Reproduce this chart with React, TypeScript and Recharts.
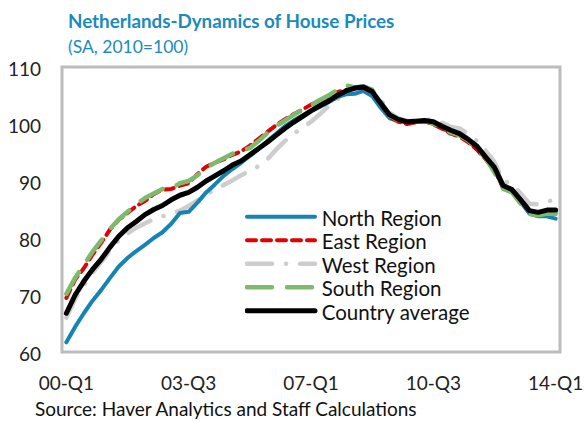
import React from 'react';
import { LineChart, Line, XAxis, YAxis, ReferenceArea } from 'recharts';

// quarterly labels 00-Q1 .. 14-Q1
const QUARTERS: string[] = [];
for (let y = 0; y <= 14; y++) {
  for (let q = 1; q <= 4; q++) {
    if (y === 14 && q > 1) break;
    QUARTERS.push(`${String(y).padStart(2, '0')}-Q${q}`);
  }
}

const X_LABELS = ['00-Q1', '03-Q3', '07-Q1', '10-Q3', '14-Q1'];
const Y_TICKS = [60, 70, 80, 90, 100, 110];

const NORTH = [
  61.7, 64.4, 66.8, 69.0, 70.9, 73.0, 75.0, 76.5, 77.7, 78.8, 80.0, 81.0, 82.5, 84.4, 84.6,
  86.2, 88.0, 89.4, 90.9, 92.1, 93.2, 94.4, 95.6, 97.0, 98.3, 99.6, 100.6, 101.5, 102.3,
  103.0, 103.8, 104.7, 105.2, 105.3, 105.8, 104.9, 102.8, 101.0, 100.6, 100.2, 100.4, 100.5,
  100.0, 99.3, 98.4, 98.0, 97.0, 95.6, 93.9, 92.0, 88.8, 88.2, 86.3, 84.3, 83.8, 83.8, 83.4,
];
const EAST = [
  69.5, 72.7, 74.7, 77.1, 79.2, 81.5, 83.2, 84.4, 85.6, 86.5, 87.7, 88.5, 88.6, 89.2, 89.6,
  91.2, 92.5, 93.2, 93.8, 94.6, 95.2, 96.2, 97.4, 98.6, 99.8, 100.8, 101.7, 102.5, 103.4,
  104.1, 104.8, 105.6, 106.0, 106.2, 106.3, 105.6, 103.5, 101.2, 100.4, 100.0, 100.3, 100.5,
  99.9, 99.2, 98.3, 97.8, 96.8, 95.5, 93.8, 92.0, 88.8, 88.3, 86.5, 84.8, 84.3, 84.2, 84.4,
];
const WEST = [
  66.0, 69.3, 71.7, 73.9, 75.8, 77.8, 79.6, 80.8, 81.8, 82.6, 83.3, 83.8, 84.3, 84.8, 85.6,
  86.6, 87.6, 88.5, 89.3, 90.1, 91.0, 91.8, 92.6, 93.8, 95.5, 97.0, 98.3, 99.3, 100.4,
  101.7, 103.1, 104.4, 105.2, 105.8, 106.3, 106.0, 104.2, 102.0, 101.0, 100.5, 100.6, 100.8,
  100.7, 100.2, 99.5, 99.2, 98.3, 97.0, 95.3, 93.3, 90.0, 89.5, 87.8, 86.0, 85.9, 86.4, 86.7,
];
const SOUTH = [
  70.2, 73.0, 75.3, 77.6, 79.6, 81.6, 83.3, 84.6, 85.9, 87.0, 87.8, 88.6, 88.7, 89.6, 90.0,
  91.0, 92.3, 93.2, 94.0, 94.8, 95.3, 95.8, 97.0, 98.4, 99.6, 100.6, 101.6, 102.5, 103.3,
  104.2, 105.0, 106.0, 106.8, 106.4, 106.6, 106.0, 103.8, 101.5, 100.6, 100.3, 100.4, 100.6,
  100.1, 99.3, 98.5, 98.0, 97.1, 95.6, 94.0, 91.5, 88.6, 88.0, 86.0, 84.2, 84.0, 84.3, 84.2,
];
const COUNTRY = [
  66.8, 70.0, 72.4, 74.5, 76.3, 78.4, 80.3, 81.8, 82.9, 84.1, 85.0, 85.7, 86.7, 87.5, 88.0,
  88.9, 90.0, 90.9, 91.8, 92.8, 93.5, 94.6, 95.7, 96.8, 98.0, 99.2, 100.3, 101.3, 102.3,
  103.2, 104.0, 105.0, 105.8, 106.3, 106.5, 105.7, 103.6, 101.6, 100.8, 100.4, 100.5, 100.6,
  100.4, 99.6, 98.9, 98.3, 97.3, 96.1, 94.2, 92.4, 89.2, 88.5, 86.7, 84.8, 84.5, 84.9, 84.9,
];

const data = QUARTERS.map((q, i) => ({
  i,
  q,
  north: NORTH[i],
  east: EAST[i],
  west: WEST[i],
  south: SOUTH[i],
  country: COUNTRY[i],
}));

// x axis: points sit in the middle of each quarter, small tick marks at quarter boundaries
const X_MIN = -0.5;
const X_MAX = QUARTERS.length - 0.5;
const LABEL_TICKS = X_LABELS.map((l) => QUARTERS.indexOf(l));
const BOUNDARY_TICKS = QUARTERS.map((_, i) => i + 0.5).slice(0, -1);

// draw order: first is at the bottom
const SERIES = [
  { key: 'west', name: 'West Region', color: '#cdcdcd', width: 4.5, dash: '25 14 0.1 14' },
  { key: 'north', name: 'North Region', color: '#1584b4', width: 4, dash: undefined },
  { key: 'east', name: 'East Region', color: '#e30000', width: 4, dash: '9 6' },
  { key: 'south', name: 'South Region', color: '#7eba6c', width: 4.5, dash: '25 15' },
  { key: 'country', name: 'Country average', color: '#000000', width: 5, dash: undefined },
];
const LEGEND_ORDER = ['north', 'east', 'west', 'south', 'country'];

const FONT = 'Lato, "Open Sans", sans-serif';
const FRAME = '#bcbcbc';
const TITLE_COLOR = '#1a8bbd';
const tickText = { fontSize: 19, fill: '#222', fontFamily: FONT };

// mirrored axes: the tick anchor sits tickSize + tickMargin inside the frame
const MinorXTick = (props: any) => {
  const { x, y } = props;
  return (
    <g>
      <path d={`M${x},${y + 2}L${x},${y + 8}`} stroke={FRAME} strokeWidth={2.5} fill="none" />
    </g>
  );
};
const MinorYTick = (props: any) => {
  const { x, y } = props;
  return (
    <g>
      <path d={`M${x - 2},${y}L${x - 9},${y}`} stroke={FRAME} strokeWidth={2.5} fill="none" />
    </g>
  );
};

const LegendBox = () => (
  <svg
    width={250}
    height={120}
    style={{ position: 'absolute', left: 245, top: 205, pointerEvents: 'none' }}
  >
    {LEGEND_ORDER.map((k, i) => {
      const s = SERIES.find((d) => d.key === k)!;
      const ly = 11.7 + i * 23.5;
      return (
        <g key={k}>
          <line
            x1={2}
            x2={70}
            y1={ly}
            y2={ly}
            stroke={s.color}
            strokeWidth={s.width}
            strokeDasharray={s.dash}
            strokeLinecap="round"
          />
          <text x={76.7} y={ly + 9} fontSize={20.5} fontFamily={FONT} fill="#111">
            {s.name}
          </text>
        </g>
      );
    })}
  </svg>
);

export default function App() {
  return (
    <div style={{ position: 'absolute', left: 0, top: 0, width: 584, height: 421, background: '#fff' }}>
      <LineChart width={584} height={421} data={data} margin={{ top: 67, right: 24, bottom: 29, left: 8 }}>
        {/* inward quarter tick marks on the bottom edge */}
        <XAxis
          xAxisId="minor"
          type="number"
          dataKey="i"
          domain={[X_MIN, X_MAX]}
          ticks={BOUNDARY_TICKS}
          interval={0}
          allowDecimals
          height={0}
          mirror
          tick={<MinorXTick />}
          tickSize={6}
          tickMargin={2}
          tickLine={{ stroke: FRAME, strokeWidth: 2.5 }}
          axisLine={{ stroke: FRAME, strokeWidth: 3 }}
        />
        {/* category labels */}
        <XAxis
          type="number"
          dataKey="i"
          domain={[X_MIN, X_MAX]}
          ticks={LABEL_TICKS}
          interval={0}
          height={40}
          tickFormatter={(v: number) => QUARTERS[v]}
          tick={tickText}
          tickSize={12}
          tickMargin={13}
          tickLine={false}
          axisLine={false}
        />
        <YAxis
          yAxisId="minor"
          domain={[60, 110]}
          ticks={Y_TICKS}
          interval={0}
          width={0}
          mirror
          tick={<MinorYTick />}
          tickSize={7}
          tickMargin={2}
          tickLine={{ stroke: FRAME, strokeWidth: 2.5 }}
          axisLine={{ stroke: FRAME, strokeWidth: 3 }}
        />
        <YAxis
          domain={[60, 110]}
          ticks={Y_TICKS}
          interval={0}
          width={54}
          tick={{ ...tickText, dy: 2 }}
          tickSize={10}
          tickMargin={11}
          tickLine={false}
          axisLine={false}
        />
        <ReferenceArea
          x1={X_MIN}
          x2={X_MAX}
          y1={60}
          y2={110}
          fill="none"
          stroke={FRAME}
          strokeWidth={3}
          ifOverflow="visible"
        />
        {SERIES.map((s) => (
          <Line
            key={s.key}
            type="linear"
            dataKey={s.key}
            name={s.name}
            stroke={s.color}
            strokeWidth={s.width}
            strokeDasharray={s.dash}
            strokeLinecap="round"
            strokeLinejoin="round"
            dot={false}
            activeDot={false}
            isAnimationActive={false}
          />
        ))}
      </LineChart>
      <LegendBox />
      <div
        style={{
          position: 'absolute',
          left: 68,
          top: 8,
          fontFamily: FONT,
          color: TITLE_COLOR,
          lineHeight: '26px',
          whiteSpace: 'nowrap',
        }}
      >
        <div style={{ fontSize: 18.8, fontWeight: 700, height: 26 }}>Netherlands-Dynamics of House Prices</div>
        <div style={{ fontSize: 17.5, height: 26 }}>(SA, 2010=100)</div>
      </div>
      <div
        style={{
          position: 'absolute',
          left: 35,
          top: 398,
          fontFamily: FONT,
          fontSize: 19,
          lineHeight: '22px',
          color: '#111',
          whiteSpace: 'nowrap',
        }}
      >
        Source: Haver Analytics and Staff Calculations
      </div>
    </div>
  );
}
